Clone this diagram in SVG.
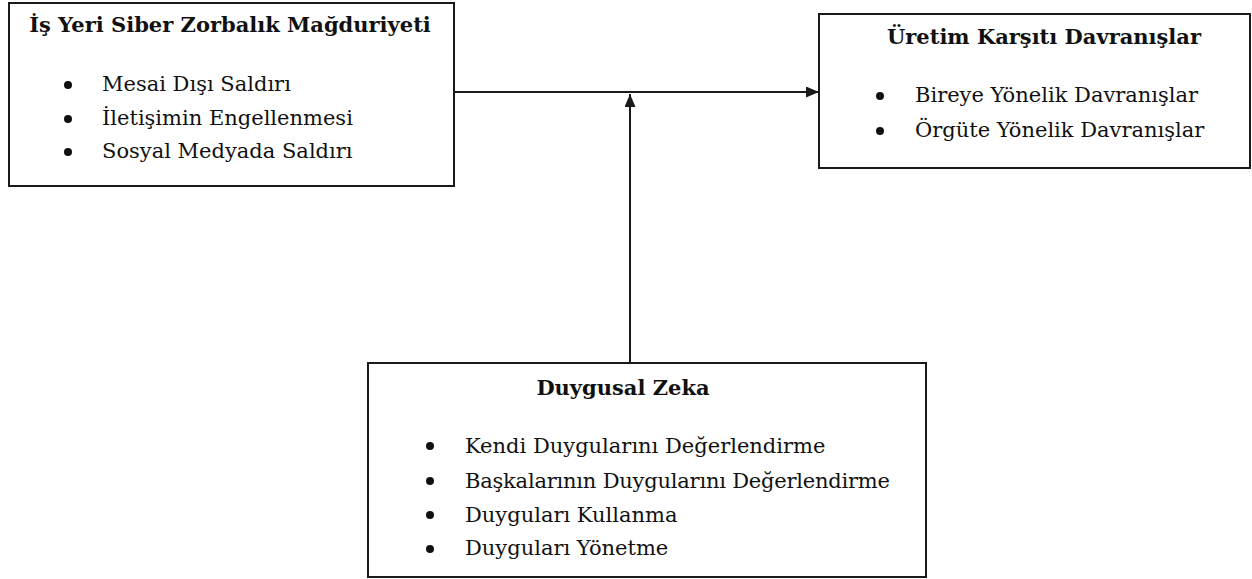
<svg xmlns="http://www.w3.org/2000/svg" width="1252" height="579" viewBox="0 0 1252 579">
<style>
.box{fill:#fff;stroke:#1a1a1a;stroke-width:2}
.title{font-family:"DejaVu Serif","Liberation Serif",serif;font-weight:bold;font-size:21px;fill:#111;text-anchor:middle}
.item{font-family:"DejaVu Serif","Liberation Serif",serif;font-size:21px;fill:#111}
.bul{fill:#111}
.conn{stroke:#1a1a1a;stroke-width:2;fill:none}
</style>
<defs>
<marker id="ah" markerWidth="13" markerHeight="11" refX="13" refY="5.5" orient="auto" markerUnits="userSpaceOnUse">
<path d="M0,0 L13,5.5 L0,11 Z" fill="#1a1a1a"/>
</marker>
</defs>
<rect width="1252" height="579" fill="#fff"/>
<g id="connectors">
<line class="conn" x1="454" y1="92" x2="819" y2="92" marker-end="url(#ah)"/>
<line class="conn" x1="630" y1="363" x2="630" y2="94" marker-end="url(#ah)"/>
</g>
<g id="node-siber">
<rect class="box" x="9" y="3" width="445" height="183"/>
<text class="title" x="230" y="32">İş Yeri Siber Zorbalık Mağduriyeti</text>
<circle class="bul" cx="68" cy="85" r="4"/>
<text class="item" x="102" y="91">Mesai Dışı Saldırı</text>
<circle class="bul" cx="68" cy="119" r="4"/>
<text class="item" x="102" y="125">İletişimin Engellenmesi</text>
<circle class="bul" cx="68" cy="152" r="4"/>
<text class="item" x="102" y="158">Sosyal Medyada Saldırı</text>
</g>
<g id="node-uretim">
<rect class="box" x="819" y="14" width="431" height="154"/>
<text class="title" x="1044" y="44">Üretim Karşıtı Davranışlar</text>
<circle class="bul" cx="880" cy="96" r="4"/>
<text class="item" x="915" y="102">Bireye Yönelik Davranışlar</text>
<circle class="bul" cx="880" cy="131" r="4"/>
<text class="item" x="915" y="137">Örgüte Yönelik Davranışlar</text>
</g>
<g id="node-duygusal">
<rect class="box" x="368" y="363" width="558" height="214"/>
<text class="title" x="623" y="395">Duygusal Zeka</text>
<circle class="bul" cx="430" cy="446" r="4"/>
<text class="item" x="465" y="453">Kendi Duygularını Değerlendirme</text>
<circle class="bul" cx="430" cy="481" r="4"/>
<text class="item" x="465" y="488" textLength="425">Başkalarının Duygularını Değerlendirme</text>
<circle class="bul" cx="430" cy="515" r="4"/>
<text class="item" x="465" y="522">Duyguları Kullanma</text>
<circle class="bul" cx="430" cy="549" r="4"/>
<text class="item" x="465" y="555">Duyguları Yönetme</text>
</g>
</svg>
